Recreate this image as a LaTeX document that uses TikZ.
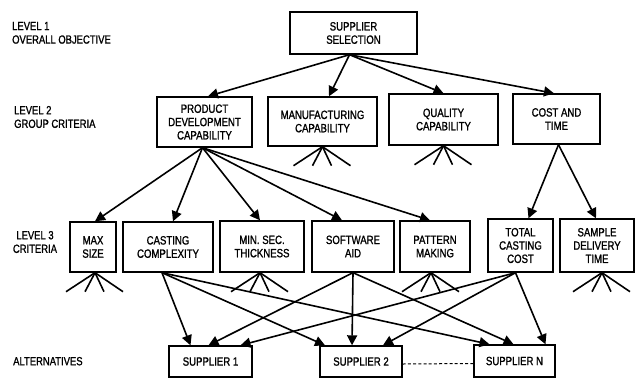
\documentclass[tikz,border=0pt]{standalone}
\usepackage{fontspec}
\setmainfont{Liberation Sans}[FakeStretch=0.8,FakeBold=1.2]
\usetikzlibrary{arrows.meta,calc}
\begin{document}
\begin{tikzpicture}[x=1pt,y=-1pt,
  box/.style={draw, line width=1.4pt, align=center, inner sep=0pt, font=\fontsize{12}{13.3}\selectfont},
  lbl/.style={align=left, inner sep=0pt, anchor=north west, font=\fontsize{11.8}{13.6}\selectfont},
  arr/.style={line width=1.6pt, -{Triangle[length=10pt,width=10pt]}},
  stub/.style={line width=1.6pt}]
\useasboundingbox (0,0) rectangle (636,378);
% level labels
\node[lbl] (l1) at (12,21.7) {LEVEL 1\\OVERALL OBJECTIVE};
\node[lbl] (l2) at (14,105.8) {LEVEL 2\\GROUP CRITERIA};
\node[lbl, align=center, anchor=north] (l3) at (35,230.8) {LEVEL 3\\CRITERIA};
\node[lbl] (la) at (13,356.8) {ALTERNATIVES};
% level 1
\node[box, minimum width=127pt, minimum height=42pt] (sel) at (353.5,33) {SUPPLIER\\SELECTION};
% level 2
\node[box, minimum width=95pt, minimum height=50pt] (pdc) at (204.5,122) {PRODUCT\\DEVELOPMENT\\CAPABILITY};
\node[box, minimum width=109pt, minimum height=49pt] (mfg) at (322.5,121.5) {MANUFACTURING\\CAPABILITY};
\node[box, minimum width=109pt, minimum height=51pt] (qual) at (443.5,119.5) {QUALITY\\CAPABILITY};
\node[box, minimum width=87pt, minimum height=50pt] (cost) at (556.5,119) {COST AND\\TIME};
% level 3
\node[box, minimum width=46pt, minimum height=50pt] (max) at (93,247) {MAX\\SIZE};
\node[box, minimum width=90pt, minimum height=50pt] (cc) at (168,247) {CASTING\\COMPLEXITY};
\node[box, minimum width=84pt, minimum height=51pt] (msec) at (262,246.5) {MIN. SEC.\\THICKNESS};
\node[box, minimum width=82pt, minimum height=51pt] (sw) at (353,246.5) {SOFTWARE\\AID};
\node[box, minimum width=70pt, minimum height=51pt] (pat) at (435,246.5) {PATTERN\\MAKING};
\node[box, minimum width=65pt, minimum height=53pt] (tcc) at (520.5,245.5) {TOTAL\\CASTING\\COST};
\node[box, minimum width=74pt, minimum height=53pt] (sdt) at (597,245.5) {SAMPLE\\DELIVERY\\TIME};
% alternatives
\node[box, minimum width=83pt, minimum height=31pt] (s1) at (210.5,361.5) {SUPPLIER 1};
\node[box, minimum width=82pt, minimum height=31pt] (s2) at (361,361.5) {SUPPLIER 2};
\node[box, minimum width=81pt, minimum height=32pt] (sN) at (514.5,361) {SUPPLIER N};
% level 1 -> level 2
\draw[arr] ([xshift=-4pt]sel.south) -- ([xshift=3.5pt]pdc.north);
\draw[arr] ([xshift=-4pt]sel.south) -- ([xshift=6.5pt]mfg.north);
\draw[arr] ([xshift=-4pt]sel.south) -- (qual.north);
\draw[arr] ([xshift=-4pt]sel.south) -- ([xshift=-2.5pt]cost.north);
% level 2 -> level 3
\draw[arr] ([xshift=-2pt]pdc.south) -- ([xshift=2pt]max.north);
\draw[arr] ([xshift=-2pt]pdc.south) -- ([xshift=5pt]cc.north);
\draw[arr] ([xshift=-2pt]pdc.south) -- ([xshift=-2pt]msec.north);
\draw[arr] ([xshift=-2pt]pdc.south) -- ([xshift=-11pt]sw.north);
\draw[arr] ([xshift=-2pt]pdc.south) -- ([xshift=-5pt]pat.north);
\draw[arr] ([xshift=2pt]cost.south) -- ([xshift=8pt]tcc.north);
\draw[arr] ([xshift=2pt]cost.south) -- ([xshift=-1pt]sdt.north);
% level 3 -> alternatives
\draw[arr] ([xshift=-6pt]cc.south) -- ([xshift=-20pt]s1.north);
\draw[arr] ([xshift=-6pt]cc.south) -- ([xshift=-36pt]s2.north);
\draw[arr] ([xshift=-6pt]cc.south) -- ([xshift=-25pt]sN.north);
\draw[arr] (sw.south) -- ([xshift=-2pt]s1.north);
\draw[arr] (sw.south) -- ([xshift=-9pt]s2.north);
\draw[arr] (sw.south) -- ([xshift=-1pt]sN.north);
\draw[arr] ([xshift=-5pt]tcc.south) -- ([xshift=30pt]s1.north);
\draw[arr] ([xshift=-5pt]tcc.south) -- ([xshift=22pt]s2.north);
\draw[arr] ([xshift=-5pt]tcc.south) -- ([xshift=31pt]sN.north);
% stubs
\foreach \n/\s in {mfg/0,qual/0,max/2,msec/-2,pat/-4,sdt/5}
  \foreach \dx in {-29,-10,9,28}
    \draw[stub] ([xshift=\s pt]\n.south) -- ++(\dx,19);
% dashed link
\draw[dash pattern=on 3pt off 2.2pt, line width=1pt] ([yshift=-2.5pt]s2.east) -- ([yshift=-2.5pt]sN.west);
\end{tikzpicture}
\end{document}
